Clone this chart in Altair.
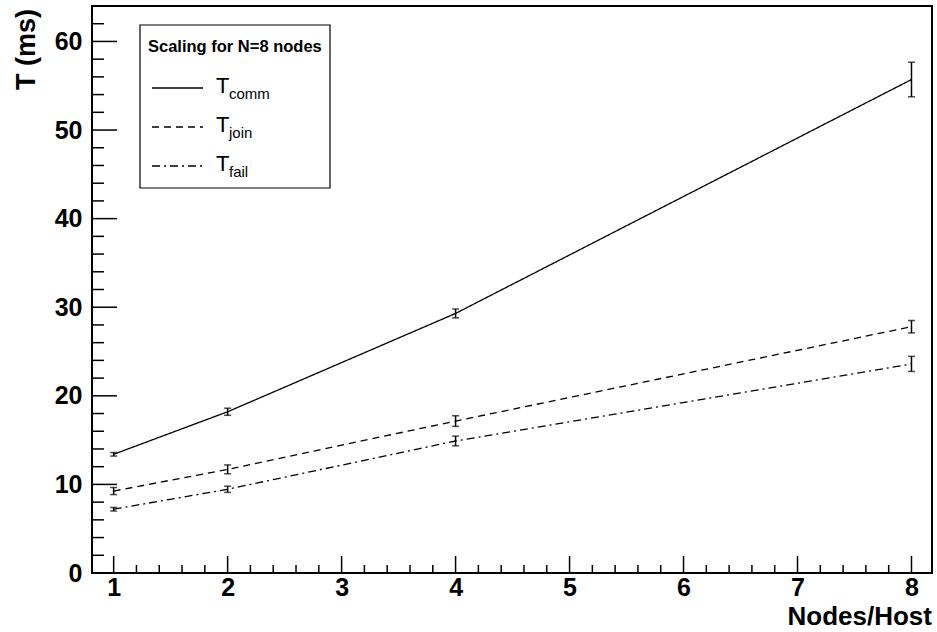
import altair as alt
import pandas as pd

# Nodes per host and measured times (ms) with their uncertainties
nodes = [1, 2, 4, 8]
t_comm = [13.4, 18.2, 29.3, 55.7]
t_comm_err = [0.2, 0.4, 0.5, 1.95]
t_join = [9.25, 11.7, 17.15, 27.8]
t_join_err = [0.4, 0.5, 0.6, 0.7]
t_fail = [7.2, 9.45, 14.9, 23.6]
t_fail_err = [0.2, 0.35, 0.55, 0.85]

series_names = ["comm", "join", "fail"]
series_dash = {"comm": [1, 0], "join": [7, 5], "fail": [8, 4, 2, 4]}

x_major = [1, 2, 3, 4, 5, 6, 7, 8]
x_minor = [round(1 + 0.2 * i, 1) for i in range(36) if i % 5 != 0]
y_major = [0, 10, 20, 30, 40, 50, 60]
y_minor = [v for v in range(2, 64, 2) if v % 10 != 0]

W, H = 840, 567
FONT = "Liberation Sans"

rows = []
for name, ys, es in [("comm", t_comm, t_comm_err), ("join", t_join, t_join_err), ("fail", t_fail, t_fail_err)]:
    for n, v, e in zip(nodes, ys, es):
        rows.append({"series": name, "n": n, "t": v, "lo": v - e, "hi": v + e})
df = pd.DataFrame(rows)

xs = alt.Scale(domain=[0.81, 8.18], nice=False, zero=False)
ys_ = alt.Scale(domain=[0, 64], nice=False, zero=True)

x_axis = alt.Axis(values=x_major, format="d", ticks=False, domain=False, grid=False,
                  labelFont=FONT, labelFontWeight="bold", labelFontSize=25,
                  labelColor="black", labelPadding=2, title=None)
y_axis = alt.Axis(values=y_major, format="d", ticks=False, domain=False, grid=False,
                  labelFont=FONT, labelFontWeight="bold", labelFontSize=25,
                  labelColor="black", labelPadding=10, title=None)


def X(field):
    return alt.X(field, scale=xs, axis=x_axis)


def Y(field):
    return alt.Y(field, scale=ys_, axis=y_axis)


layers = []
for name in series_names:
    sub = df[df.series == name]
    layers.append(alt.Chart(sub).mark_line(color="black", strokeWidth=1.3,
                                           strokeDash=series_dash[name]).encode(
        x=X("n:Q"), y=Y("t:Q")))

err = alt.Chart(df).mark_rule(color="black", strokeWidth=1.5).encode(
    x=X("n:Q"), y=Y("lo:Q"), y2="hi:Q")
cap_lo = alt.Chart(df).mark_tick(color="black", orient="horizontal", size=7, thickness=1.5).encode(
    x=X("n:Q"), y=Y("lo:Q"))
cap_hi = alt.Chart(df).mark_tick(color="black", orient="horizontal", size=7, thickness=1.5).encode(
    x=X("n:Q"), y=Y("hi:Q"))
layers += [err, cap_lo, cap_hi]

# Inward-pointing axis ticks
ymaj = alt.Chart(pd.DataFrame({"v": y_major})).mark_rule(color="black", strokeWidth=1.5).encode(
    y=Y("v:Q"), x=alt.value(0), x2=alt.value(25))
ymin = alt.Chart(pd.DataFrame({"v": y_minor})).mark_rule(color="black", strokeWidth=1.5).encode(
    y=Y("v:Q"), x=alt.value(0), x2=alt.value(12))
xmaj = alt.Chart(pd.DataFrame({"v": x_major})).mark_rule(color="black", strokeWidth=1.5).encode(
    x=X("v:Q"), y=alt.value(H), y2=alt.value(H - 17))
xmin = alt.Chart(pd.DataFrame({"v": x_minor})).mark_rule(color="black", strokeWidth=1.5).encode(
    x=X("v:Q"), y=alt.value(H), y2=alt.value(H - 8))
layers += [ymaj, ymin, xmaj, xmin]

# Axis titles
one = pd.DataFrame({"k": [0]})
ytitle = alt.Chart(one).mark_text(text="T (ms)", font=FONT, fontWeight="bold", fontSize=27,
                                  angle=270, align="right", baseline="alphabetic",
                                  color="black").encode(x=alt.value(-57), y=alt.value(3))
xtitle = alt.Chart(one).mark_text(text="Nodes/Host", font=FONT, fontWeight="bold", fontSize=26,
                                  align="right", baseline="alphabetic",
                                  color="black").encode(x=alt.value(W), y=alt.value(619))
layers += [ytitle, xtitle]

# Legend box
box = alt.Chart(one).mark_rect(fill="white", stroke="black", strokeWidth=1.2).encode(
    x=alt.value(48), x2=alt.value(238), y=alt.value(19), y2=alt.value(182))
ltitle = alt.Chart(one).mark_text(text="Scaling for N=8 nodes", font=FONT, fontWeight="bold",
                                  fontSize=16.5, align="left", baseline="alphabetic",
                                  color="black").encode(x=alt.value(56), y=alt.value(46))
layers += [box, ltitle]

row_y = {"comm": 82, "join": 121, "fail": 160}
for name in series_names:
    yy = row_y[name]
    layers.append(alt.Chart(one).mark_rule(color="black", strokeWidth=1.3,
                                           strokeDash=series_dash[name]).encode(
        x=alt.value(60), x2=alt.value(111), y=alt.value(yy)))
    layers.append(alt.Chart(one).mark_text(text="T", font=FONT, fontSize=22,
                                           align="left", baseline="alphabetic",
                                           color="black").encode(
        x=alt.value(124), y=alt.value(yy + 5)))
    layers.append(alt.Chart(one).mark_text(text=name, font=FONT, fontSize=15,
                                           align="left", baseline="alphabetic",
                                           color="black").encode(
        x=alt.value(137), y=alt.value(yy + 11)))

chart = alt.layer(*layers).properties(
    width=W, height=H,
    autosize=alt.AutoSizeParams(type="none"),
    padding={"left": 92, "top": 6, "right": 5, "bottom": 59},
    background="white",
).configure_view(stroke="black", strokeWidth=2)

chart.save("out.html", embed_options={"renderer": "svg", "actions": False})
